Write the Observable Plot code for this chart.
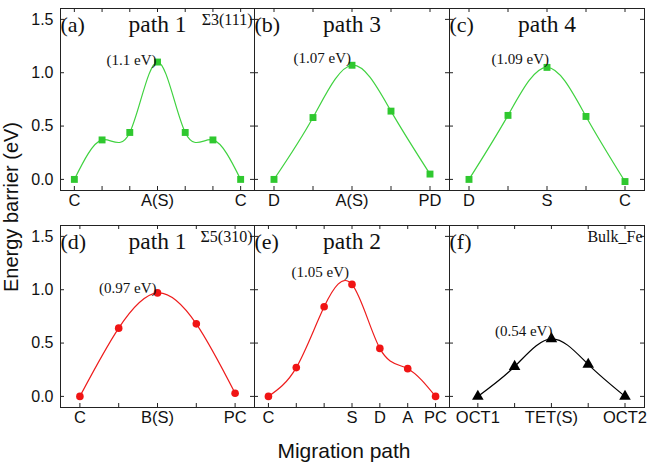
<!DOCTYPE html>
<html>
<head>
<meta charset="utf-8">
<script src="https://cdn.jsdelivr.net/npm/d3@7"></script>
<script src="https://cdn.jsdelivr.net/npm/@observablehq/plot@0.6"></script>
<style>
  html, body { margin: 0; padding: 0; background: white; }
  #chart { position: relative; width: 653px; height: 468px; background: white; overflow: hidden; }
  #chart svg { position: absolute; }
  .title { position: absolute; font-family: "Liberation Sans", Arial, sans-serif; color: #111; white-space: nowrap; }
</style>
</head>
<body>
<div id="chart"></div>
<script>
// ---- data ----
const yTicks = [0, 0.5, 1.0, 1.5];

const aLabels = ["C", "", "", "A(S)", "", "", "C"];
const aValues = [0, 0.37, 0.44, 1.10, 0.44, 0.37, 0];

const bLabels = ["D", "", "A(S)", "", "PD"];
const bValues = [0, 0.58, 1.07, 0.64, 0.05];

const cLabels = ["D", "", "S", "", "C"];
const cValues = [0, 0.60, 1.05, 0.59, -0.02];

const dLabels = ["C", "", "B(S)", "", "PC"];
const dValues = [0, 0.64, 0.97, 0.68, 0.03];

const eLabels = ["C", "", "", "S", "D", "A", "PC"];
const eValues = [0, 0.27, 0.84, 1.05, 0.45, 0.26, 0];

const fLabels = ["OCT1", "", "TET(S)", "", "OCT2"];
const fValues = [0, 0.28, 0.54, 0.30, 0];

const panelTags = ["(a)", "(b)", "(c)", "(d)", "(e)", "(f)"];
const pathNames = ["path 1", "path 3", "path 4", "path 1", "path 2", ""];
const barrierTexts = ["(1.1 eV)", "(1.07 eV)", "(1.09 eV)", "(0.97 eV)", "(1.05 eV)", "(0.54 eV)"];
const cornerTexts = ["\u03a33(111)", "", "", "\u03a35(310)", "", "Bulk_Fe"];

// ---- style / layout ----
const GREEN_DOT = "#2fc82f", GREEN_LINE = "#3fd23f";
const RED_DOT = "#f01414", RED_LINE = "#ee1c1c";
const BLACK = "#000";
const FRAME = "#222";
const SANS = "Liberation Sans, Arial, sans-serif";
const SERIF = "Liberation Serif, Times New Roman, serif";

const ML = 45, MR = 10, MT = 10, MB = 30;
const colLeft = [60, 254, 449];
const colW = [194, 195, 195];
const rowTop = [8, 225];
const H = 182;
const yDomain = [-0.104, 1.602];

const panels = [
  {labels: aLabels, values: aValues, col: 0, row: 0, xDomain: [-0.5, 6.5], dot: GREEN_DOT, line: GREEN_LINE, symbol: "square", r: 3.9, adx: -1, ady: -2},
  {labels: bLabels, values: bValues, col: 1, row: 0, xDomain: [-0.5, 4.5], dot: GREEN_DOT, line: GREEN_LINE, symbol: "square", r: 3.9, adx: -1, ady: -7},
  {labels: cLabels, values: cValues, col: 2, row: 0, xDomain: [-0.5, 4.5], dot: GREEN_DOT, line: GREEN_LINE, symbol: "square", r: 3.9, adx: 2, ady: -8},
  {labels: dLabels, values: dValues, col: 0, row: 1, xDomain: [-0.5, 4.5], dot: RED_DOT, line: RED_LINE, symbol: "circle", r: 3.8, adx: -1, ady: -5},
  {labels: eLabels, values: eValues, col: 1, row: 1, xDomain: [-0.5, 6.5], dot: RED_DOT, line: RED_LINE, symbol: "circle", r: 3.8, adx: -3, ady: -12},
  {labels: fLabels, values: fValues, col: 2, row: 1, xDomain: [-0.77, 4.53], dot: BLACK, line: BLACK, symbol: "triangle", r: 4.3, adx: 1, ady: -8}
];

const chart = document.getElementById("chart");

panels.forEach((p, k) => {
  const w = colW[p.col];
  const data = p.values.map((v, i) => ({i, v}));
  const idx = p.values.map((_, i) => i);
  const labeled = idx.filter(i => p.labels[i] !== "");
  let peak = 0;
  p.values.forEach((v, i) => { if (v > p.values[peak]) peak = i; });

  const svg = Plot.plot({
    width: w + ML + MR,
    height: H + MT + MB,
    marginLeft: ML, marginRight: MR, marginTop: MT, marginBottom: MB,
    style: {background: "transparent", overflow: "visible", fontFamily: SANS, color: "#111"},
    x: {domain: p.xDomain, axis: null},
    y: {domain: yDomain, axis: null},
    marks: [
      Plot.tickY(yTicks, {y: d => d, insetRight: w - 4, stroke: FRAME}),
      Plot.tickY(yTicks, {y: d => d, insetLeft: w - 4, stroke: FRAME}),
      Plot.tickX(idx, {x: d => d, insetTop: H - 4, stroke: FRAME}),
      Plot.tickX(idx, {x: d => d, insetBottom: H - 4, stroke: FRAME}),
      p.col === 0 ? Plot.axisY(yTicks, {tickSize: 0, tickPadding: 7, fontSize: 16, label: null, tickFormat: d => d.toFixed(1)}) : null,
      Plot.axisX(labeled, {tickSize: 0, tickPadding: 4, fontSize: 16.5, label: null, tickFormat: i => p.labels[i]}),
      Plot.line(data, {x: "i", y: "v", curve: "natural", stroke: p.line, strokeWidth: 1.2}),
      Plot.dot(data, {x: "i", y: "v", symbol: p.symbol, r: p.r, fill: p.dot, stroke: "none"}),
      Plot.text([barrierTexts[k]], {x: () => peak, y: () => p.values[peak], text: d => d, textAnchor: "end", lineAnchor: "middle", dx: p.adx, dy: p.ady, fontFamily: SERIF, fontSize: 15, fill: "#111"}),
      Plot.text([panelTags[k]], {frameAnchor: "top-left", text: d => d, textAnchor: "start", lineAnchor: "middle", dx: 0, dy: 16.5, fontFamily: SERIF, fontSize: 22, fill: "#111"}),
      pathNames[k] ? Plot.text([pathNames[k]], {frameAnchor: "top", text: d => d, lineAnchor: "middle", dy: 15.5, fontFamily: SERIF, fontSize: 23.5, fill: "#111"}) : null,
      cornerTexts[k] ? Plot.text([cornerTexts[k]], {frameAnchor: "top-right", text: d => d, textAnchor: "end", lineAnchor: "middle", dx: -2, dy: 11, fontFamily: SERIF, fontSize: 16, fill: "#111"}) : null,
      Plot.frame({stroke: FRAME})
    ]
  });
  svg.style.left = (colLeft[p.col] - ML) + "px";
  svg.style.top = (rowTop[p.row] - MT) + "px";
  chart.appendChild(svg);
});

const yTitle = document.createElement("div");
yTitle.className = "title";
yTitle.textContent = "Energy barrier (eV)";
Object.assign(yTitle.style, {left: "10.5px", top: "207px", fontSize: "20px", transform: "translate(-50%, -50%) rotate(-90deg)"});
chart.appendChild(yTitle);

const xTitle = document.createElement("div");
xTitle.className = "title";
xTitle.textContent = "Migration path";
Object.assign(xTitle.style, {left: "344px", top: "451px", fontSize: "21px", transform: "translate(-50%, -50%)"});
chart.appendChild(xTitle);
</script>
</body>
</html>
